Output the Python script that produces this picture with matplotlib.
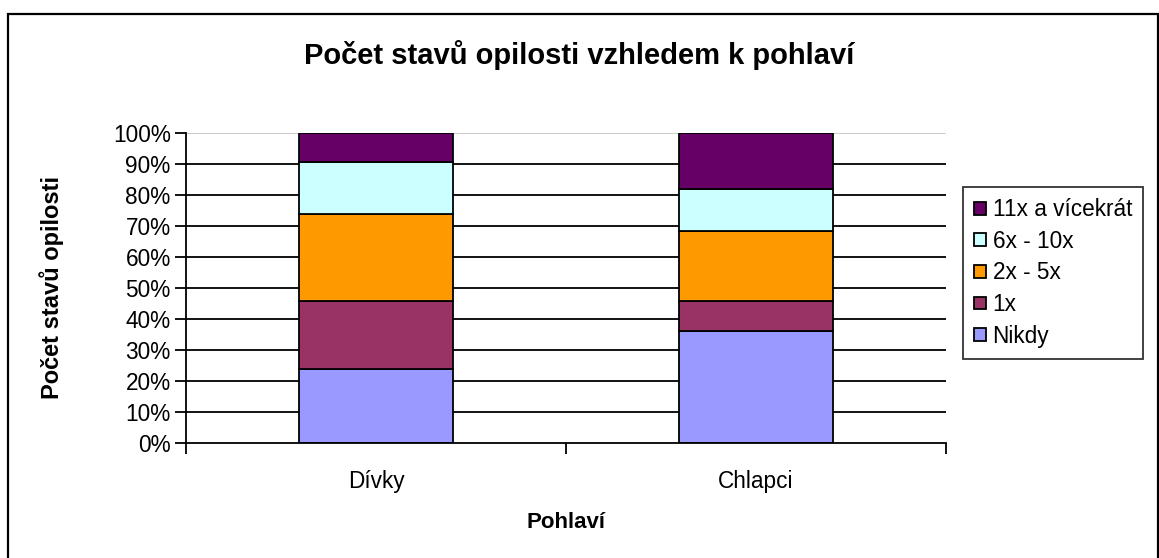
import matplotlib
matplotlib.use("Agg")
import matplotlib.pyplot as plt
from matplotlib.patches import Rectangle, Patch
import numpy as np

plt.rcParams['font.family'] = ['Liberation Sans', 'DejaVu Sans']

# share of respondents (%) per group, bottom segment first
groups = ["Dívky", "Chlapci"]
series_names = ["Nikdy", "1x", "2x - 5x", "6x - 10x", "11x a vícekrát"]
nikdy = [23.7, 36.1]
jednou = [22.1, 9.7]
dva_pet = [28.0, 22.6]
sest_deset = [16.6, 13.4]
jedenact_a_vic = [9.6, 18.2]
colors = ["#9999FF", "#993366", "#FF9900", "#CCFFFF", "#660066"]

values = np.array([nikdy, jednou, dva_pet, sest_deset, jedenact_a_vic])
values = values / values.sum(axis=0) * 100

fig = plt.figure(figsize=(11.59, 5.58), dpi=100)
# chart frame (bottom edge lies outside the saved area)
fig.patches.append(Rectangle((0.0065, -0.02), 0.9925, 0.995, transform=fig.transFigure,
                             fill=False, edgecolor="black", linewidth=1.6))

ax = fig.add_axes([0.1605, 0.2066, 0.6557, 0.5556])
x = np.arange(len(groups))

for yv in range(10, 100, 10):
    ax.axhline(yv, color="black", linewidth=1.3, zorder=0)
ax.axhline(100, color="#C8C8C8", linewidth=1.3, zorder=0)

bottom = np.zeros(len(groups))
for name, vals, col in zip(series_names, values, colors):
    ax.bar(x, vals, width=0.405, bottom=bottom, color=col, edgecolor="black",
           linewidth=1.3, zorder=2, label=name)
    bottom += vals

ax.set_xlim(-0.5, 1.5)
ax.set_ylim(0, 100)
ax.set_yticks(range(0, 101, 10))
ax.set_yticklabels([f"{v}%" for v in range(0, 101, 10)], fontsize=16.3)
ax.set_xticks([-0.5, 0.5, 1.5])
ax.set_xticklabels(["", "", ""])
ax.set_xticks(x, minor=True)
ax.set_xticklabels(groups, minor=True, fontsize=16.3)
ax.tick_params(axis="x", which="minor", length=0, pad=20)
ax.tick_params(axis="x", which="major", direction="out", length=8, width=1.3)
ax.tick_params(axis="y", direction="out", length=8, width=1.3, pad=3)

for side in ["top", "right"]:
    ax.spines[side].set_visible(False)
ax.spines["left"].set_linewidth(1.3)
ax.spines["bottom"].set_linewidth(1.3)

ax.set_xlabel("Pohlaví", fontsize=16, fontweight="bold", labelpad=13)
ax.set_ylabel("Počet stavů opilosti", fontsize=17, fontweight="bold", labelpad=35)
fig.text(0.5, 0.901, "Počet stavů opilosti vzhledem k pohlaví", ha="center", va="center",
         fontsize=21, fontweight="bold")

handles = [Patch(facecolor=c, edgecolor="black", linewidth=1.3) for c in colors][::-1]
leg = fig.legend(handles, series_names[::-1], loc="upper left",
                 bbox_to_anchor=(0.831, 0.665), borderaxespad=0, fontsize=16.3,
                 frameon=True, fancybox=False, edgecolor="black",
                 handlelength=0.5, handleheight=0.5, handletextpad=0.3,
                 labelspacing=0.38, borderpad=0.5)
leg.get_frame().set_linewidth(1.3)

fig.savefig("out.png", dpi=100)
